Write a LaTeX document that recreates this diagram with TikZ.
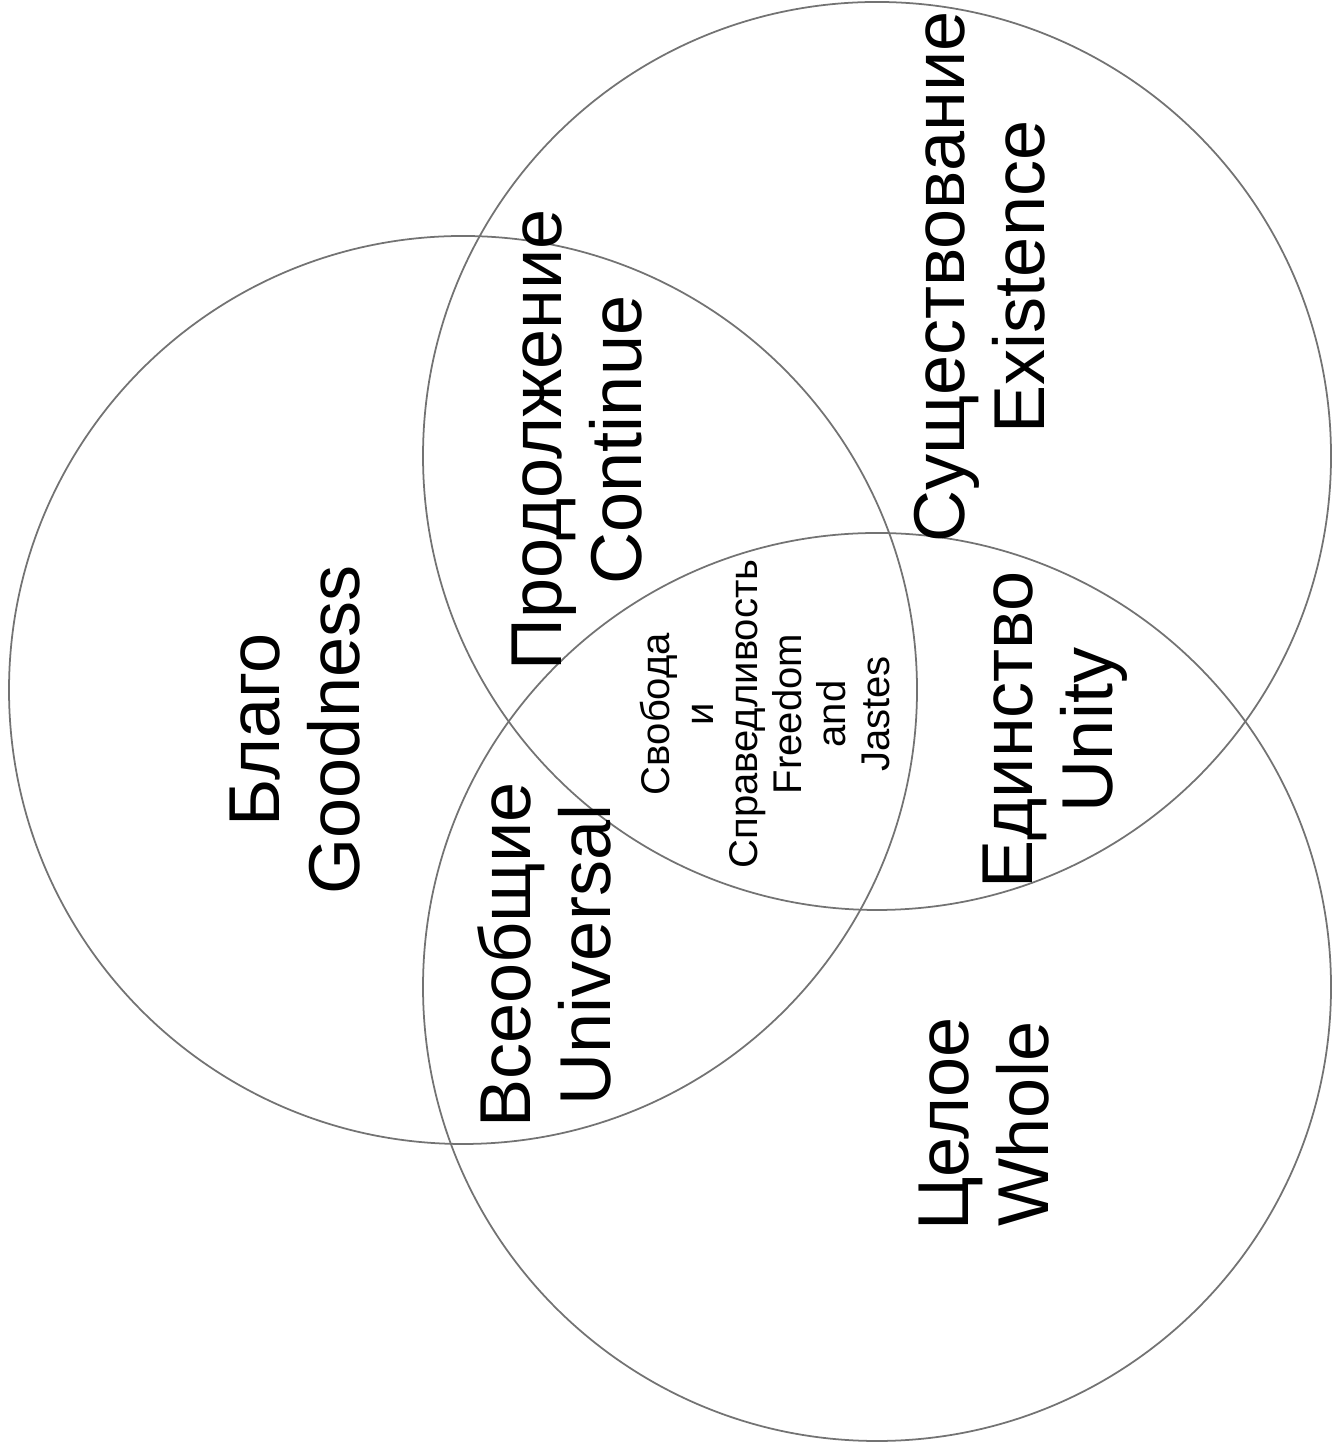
\documentclass[tikz,border=0pt]{standalone}
\usepackage{fontspec}
\setmainfont{Liberation Sans}
\newcommand{\bigtext}{\fontsize{20.5}{22.8}\selectfont}
\newcommand{\coretext}{\fontsize{11.4}{12.5}\selectfont}

\begin{document}
\begin{tikzpicture}[
  ring/.style={draw=black!55,line width=0.5pt},
  word/.style={rotate=90,align=center,inner sep=0pt,font=\bigtext},
  core/.style={word,font=\coretext}]
  \useasboundingbox (0,0) rectangle (13.33,14.53);
  % three circles
  \draw[ring] (4.63,7.63) circle (4.54);
  \draw[ring] (8.77,9.97) circle (4.54);
  \draw[ring] (8.77,4.66) circle (4.54);
  % labels, read from bottom to top
  \node[word] (goodness) at (2.95,7.23) {Благо\\Goodness};
  \node[word] (existence) at (9.80,11.76) {Существование\\Existence};
  \node[word] (continue) at (5.77,10.13) {Продолжение\\Continue};
  \node[word] (unity) at (10.55,7.23) {Единство\\Unity};
  \node[word] (universal) at (5.44,4.98) {Всеобщие\\Universal};
  \node[word] (whole) at (9.84,3.29) {Целое\\Whole};
  % middle part
  \node[core] (freedom) at (7.65,7.39) {Свобода\\и\\Справедливость\\Freedom\\and\\Jastes};
\end{tikzpicture}
\end{document}
